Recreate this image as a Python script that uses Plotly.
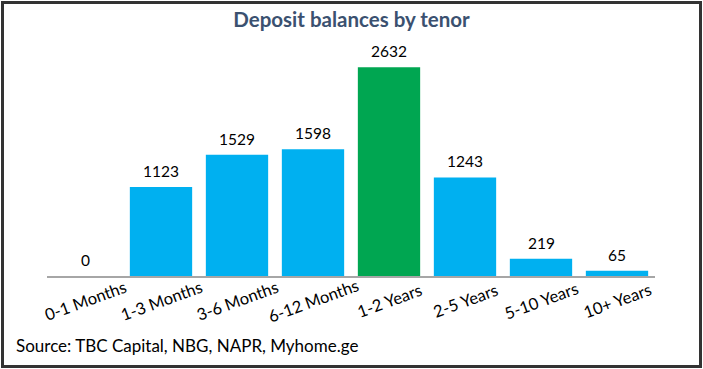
import plotly.graph_objects as go

categories = ["0-1 Months", "1-3 Months", "3-6 Months", "6-12 Months",
              "1-2 Years", "2-5 Years", "5-10 Years", "10+ Years"]
values = [0, 1123, 1529, 1598, 2632, 1243, 219, 65]
highlight = "1-2 Years"

colors = ["#00A651" if c == highlight else "#00B0F0" for c in categories]

fig = go.Figure(go.Bar(
    x=categories, y=values, marker_color=colors, marker_line_width=0,
))

W, H = 703, 369
L, R, T, B = 47, 48, 38, 93
pw, ph = W - L - R, H - T - B

def px_x(x):
    return (x - L) / pw

def px_y(y):
    return (H - B - y) / ph

annotations = [dict(text=str(v), xref="x", yref="y", x=c, y=v,
                    xanchor="center", yanchor="bottom", yshift=5,
                    showarrow=False,
                    font=dict(size=15.5, color="#000000", family="Lato"))
               for c, v in zip(categories, values)]
annotations += [dict(text=c, xref="x", yref="paper", x=c, y=px_y(301),
                     xanchor="center", yanchor="middle", textangle=-20,
                     showarrow=False,
                     font=dict(size=16.5, color="#000000", family="Lato"))
                for c in categories]
annotations.append(dict(text="Source: TBC Capital, NBG, NAPR, Myhome.ge",
                        xref="paper", yref="paper", x=px_x(14), y=px_y(345),
                        xanchor="left", yanchor="middle", showarrow=False,
                        font=dict(size=17, color="#000000", family="Lato")))

fig.update_layout(
    width=W, height=H,
    margin=dict(l=L, r=R, t=T, b=B, autoexpand=False),
    paper_bgcolor="white", plot_bgcolor="white",
    bargap=0.18,
    showlegend=False,
    font=dict(family="Lato", color="#000000"),
    title=dict(text="<b>Deposit balances by tenor</b>", x=0.5, xanchor="center",
               y=1 - 20 / H, yanchor="middle",
               font=dict(size=20.5, color="#3B5170", family="Lato")),
    xaxis=dict(showticklabels=False, range=[-0.5, len(categories) - 0.5],
               autorange=False,
               showline=True, linecolor="#A6A6A6", linewidth=2,
               ticks="", showgrid=False, automargin=False),
    yaxis=dict(range=[0, 3000], autorange=False, visible=False, showgrid=False),
    shapes=[dict(type="rect", xref="paper", yref="paper",
                 x0=px_x(2.5), x1=px_x(700.5), y0=px_y(366.5), y1=px_y(2.5),
                 line=dict(color="#333333", width=3), fillcolor="rgba(0,0,0,0)")],
    annotations=annotations,
)

fig.write_html("out.html", config={"displayModeBar": False},
               post_script="document.body.style.margin='0';document.body.style.overflow='hidden';")
